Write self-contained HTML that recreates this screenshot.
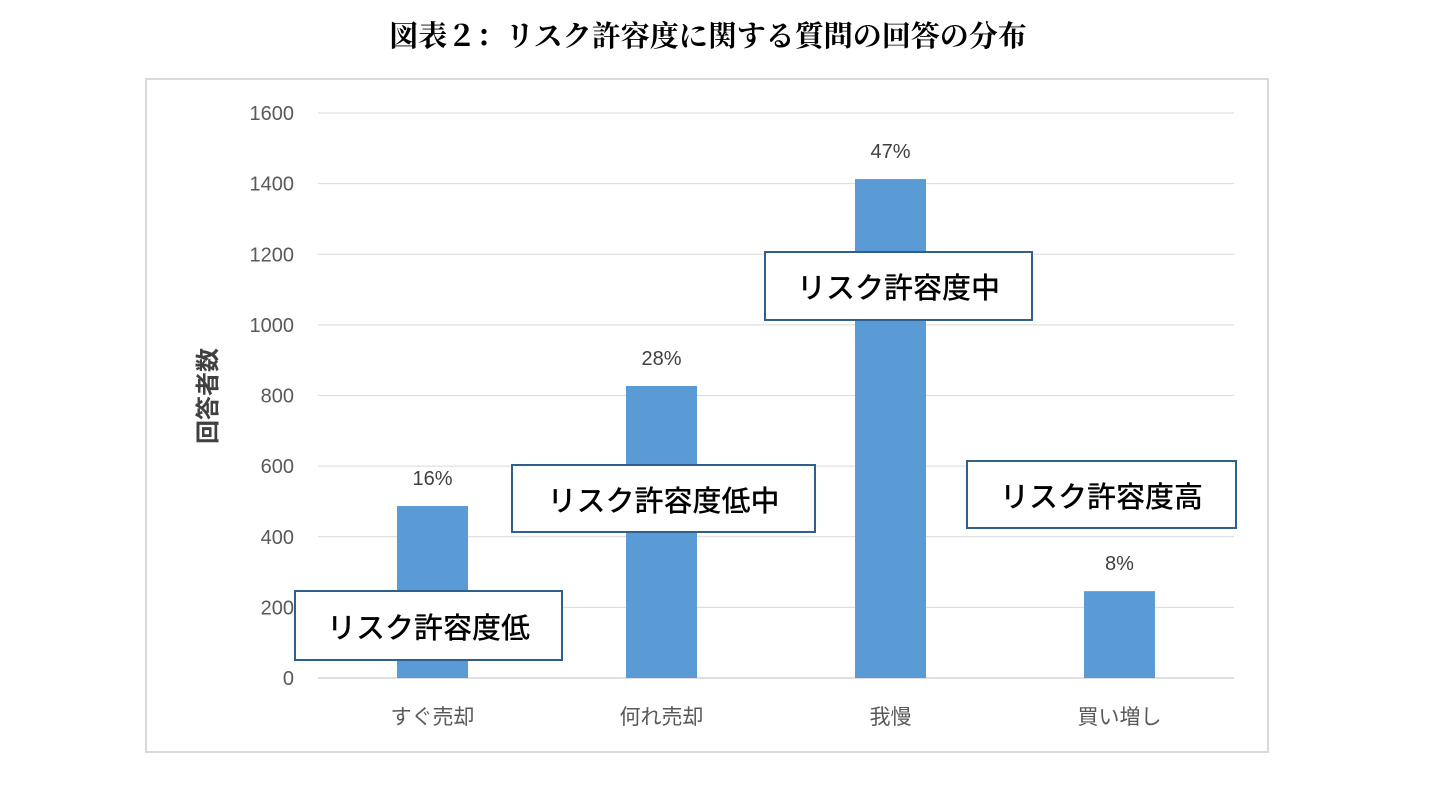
<!DOCTYPE html>
<html><head><meta charset="utf-8">
<style>
body{margin:0;background:#fff;width:1439px;height:785px;overflow:hidden;position:relative;font-family:"Liberation Sans","Noto Sans CJK JP",sans-serif}
#title{position:absolute;left:0;width:1416px;top:14px;text-align:center;font-family:"Liberation Serif","Noto Serif CJK SC",serif;font-weight:bold;font-size:29px;color:#000}
.box{position:absolute;background:#fff;border:2px solid #2f5f8c;box-sizing:border-box;display:flex;align-items:center;justify-content:center;font-size:29px;font-weight:500;color:#000}
</style></head><body>
<div id="title">図表２：リスク許容度に関する質問の回答の分布</div>
<svg id="chart" width="1439" height="785" style="position:absolute;left:0;top:0">
<rect x="146" y="79" width="1122" height="673" fill="none" stroke="#d9d9d9" stroke-width="2"/>
<g id="grid"></g><g id="bars"></g><g id="labels"></g>
<text x="0" y="0" transform="translate(216,396) rotate(-90)" text-anchor="middle" font-size="24" font-weight="bold" fill="#404040" font-family="Liberation Sans, Noto Sans CJK JP, sans-serif">回答者数</text>
</svg>
<div class="box" style="left:294px;top:590px;width:269px;height:71px">リスク許容度低</div>
<div class="box" style="left:511px;top:464px;width:305px;height:69px">リスク許容度低中</div>
<div class="box" style="left:764px;top:251px;width:269px;height:70px">リスク許容度中</div>
<div class="box" style="left:966px;top:460px;width:271px;height:69px">リスク許容度高</div>
<script>
const categories=["すぐ売却","何れ売却","我慢","買い増し"];
const values=[487,827,1413,246];
const percents=["16%","28%","47%","8%"];
const yTicks=[0,200,400,600,800,1000,1200,1400,1600];
const NS="http://www.w3.org/2000/svg";
const x0=318,x1=1234,y0=678,y1=113,yMax=1600;
const y=v=>y0-(y0-y1)*v/yMax;
const band=(x1-x0)/categories.length;
const bx=i=>x0+band*i+band/2;
function mk(t,a,p){const e=document.createElementNS(NS,t);for(const k in a)e.setAttribute(k,a[k]);p.appendChild(e);return e;}
const g=document.getElementById('grid'),b=document.getElementById('bars'),l=document.getElementById('labels');
yTicks.forEach(t=>{
 const ln=mk('line',{x1:x0,x2:x1,y1:y(t),y2:y(t),stroke:t===0?'#bfbfbf':'#d9d9d9','stroke-width':1},g);
 
 
 const tx=mk('text',{x:294,y:y(t)+7,'text-anchor':'end','font-size':20,fill:'#595959'},g);
 tx.textContent=t;
 
 
});
categories.forEach((c,i)=>{
 const r=mk('rect',{x:bx(i)-35.5,y:y(values[i]),width:71,height:y0-y(values[i]),fill:'#5b9bd5'},b);
 
 
 const p=mk('text',{x:bx(i),y:y(values[i])-21,'text-anchor':'middle','font-size':20,fill:'#404040'},l);
 p.textContent=percents[i];
 
 
 const ct=mk('text',{x:bx(i),y:724,'text-anchor':'middle','font-size':21,fill:'#595959'},l);
 ct.textContent=c;
 
 
});
</script>
</body></html>
